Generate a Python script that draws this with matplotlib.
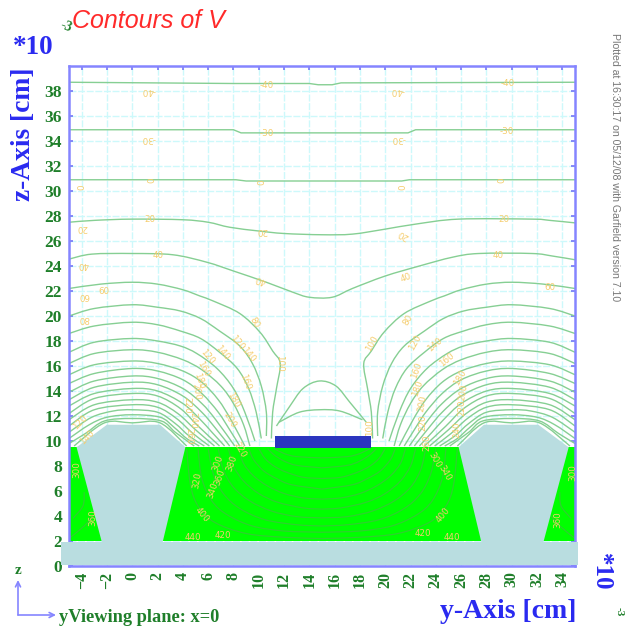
import matplotlib
matplotlib.use("Agg")
import matplotlib.pyplot as plt
from matplotlib.patches import Polygon, PathPatch, FancyArrowPatch
from matplotlib.path import Path

# Picture is symmetric about this y position; right-hand curves are its reflection
MIRROR_Y = 30

y_ticks = list(range(-4, 36, 2))
z_ticks = list(range(0, 40, 2))

# Nearly flat contours spanning the whole width
c_top1 = [(-5, 38.7), (8, 38.6), (14, 38.6), (14.7, 38.5), (15.8, 38.5), (16.5, 38.65), (35, 38.7)]
c_top2 = [(-5, 34.9), (8, 34.9), (8.6, 34.65), (21.8, 34.65), (22.4, 34.9), (35, 34.9)]
c_top3 = [(-5, 30.9), (8.2, 30.9), (9, 30.8), (21.3, 30.8), (21.9, 30.9), (35, 30.9)]
c_top4 = [(-5, 27.5), (-3, 27.65), (0, 27.75), (4, 27.7), (6, 27.5), (7.7, 27.1), (10, 26.8), (12, 26.6),
          (15, 26.5), (17.4, 26.55), (20, 26.95), (22.4, 27.35), (25.8, 27.75), (31.6, 27.75), (33, 27.65), (35, 27.45)]
c_saddle = [(-5, 24.55), (-3.2, 24.95), (0, 25), (3.2, 24.9), (5.9, 24.3), (8, 23.6), (10.6, 22.7), (12.7, 21.9),
            (14, 21.5), (15.8, 21.5), (17.4, 22.2), (20, 23.2), (22.7, 24), (25.3, 24.7), (27.4, 25), (31.6, 25),
            (33.2, 24.8), (35, 24.5)]

# Arches over the left island, ending on the electrode side
arches = [
    [(-5, 22.2), (-2.5, 22.55), (0, 22.7), (2, 22.55), (4, 22.1), (5.35, 21.6), (6.4, 21.2), (8.5, 20.2), (10.1, 18.7),
     (11.1, 17.2), (11.7, 16.2), (11.4, 14.2), (11.1, 12.3), (11, 10.2)],
    [(-5, 20), (-3, 20.6), (0, 20.9), (2, 20.7), (3.8, 20.4), (5.4, 19.8), (6.9, 18.8), (8.5, 17.6), (9.5, 16.2),
     (10.2, 14.4), (10.6, 12.3), (10.6, 10.4)],
    [(-5, 18.6), (-3, 19.2), (0, 19.5), (2, 19.3), (3.8, 18.8), (5.4, 18.2), (6.9, 17.1), (8.3, 15.8), (9.2, 14.2),
     (9.8, 12.3), (10.2, 10.2)],
    [(-5, 17.1), (-3, 17.9), (0, 18.2), (2, 18), (3.8, 17.6), (5.1, 17), (6.7, 15.8), (8, 14.2), (8.9, 12.3), (9.7, 10)],
    [(-5, 16.2), (-3, 17), (0, 17.3), (2, 17.1), (4, 16.5), (5.5, 15.7), (7, 14.4), (8, 13), (8.8, 11.3), (9.3, 9.6)],
    [(-5, 15.3), (-3, 16.1), (0, 16.4), (2, 16.2), (4, 15.6), (5.5, 14.7), (6.8, 13.3), (7.8, 11.7), (8.9, 9.6)],
    [(-5, 14.6), (-3, 15.4), (0, 15.8), (2, 15.6), (4, 14.9), (5.5, 13.8), (6.8, 12.3), (7.7, 10.9), (8.5, 9.6)],
    [(-5, 13.9), (-3, 14.8), (0, 15.2), (2, 15), (4, 14.2), (5.5, 13), (6.6, 11.7), (8.1, 9.6)],
    [(-5, 13.3), (-3, 14.3), (0, 14.7), (2, 14.5), (4, 13.6), (5.5, 12.3), (6.6, 11), (7.7, 9.6)],
    [(-5, 12.8), (-3, 13.8), (0, 14.2), (2, 14), (4, 13), (5.3, 11.8), (6.3, 10.7), (7.3, 9.6)],
    [(-5, 12.2), (-3, 13.4), (0, 13.8), (2, 13.6), (3.8, 12.6), (5.2, 11.2), (6.9, 9.6)],
    [(-5, 11.7), (-3, 12.9), (0, 13.3), (2, 13.1), (3.6, 12.2), (5, 10.9), (6.5, 9.6)],
    [(-5, 11.2), (-3, 12.5), (0, 12.9), (2, 12.7), (3.5, 11.8), (4.8, 10.6), (6.1, 9.6)],
    [(-5, 10.7), (-3.2, 11.9), (-1.5, 12.4), (0, 12.5), (2, 12.3), (3.4, 11.4), (4.5, 10.4), (5.7, 9.6)],
    [(-5, 10.2), (-3.4, 11.3), (-2, 11.9), (0, 12.1), (2.2, 11.9), (3.3, 11.1), (4.3, 10.2), (5.3, 9.6)],
    [(-5, 9.8), (-3.7, 10.6), (-2.2, 11.6), (0, 11.8), (2.3, 11.6), (3.4, 10.7), (4.9, 9.6)],
    [(-4.6, 9.6), (-2.2, 11.45), (0, 11.45), (2.2, 11.45), (4.3, 9.6)],
]

# Two small arcs above the electrode
c_elec1 = [(11.4, 11.2), (12.4, 12.7), (13.5, 14.2), (14.8, 14.8), (16.1, 14.4), (17.2, 13.1), (18.5, 11.5)]
c_elec2 = [(11.6, 11.5), (13.2, 12.3), (14.8, 12.5), (16.4, 12.4), (18.2, 11.7)]

# Half contours inside the green region, from the top edge down to the centre
green_arcs = [
    [(4.3, 9.4), (4.6, 6.5), (5.2, 4.8), (6.5, 3.5), (9, 2.6), (12, 2.3), (15, 2.2)],
    [(5.2, 9.4), (5.5, 7), (6.3, 5.2), (7.5, 4.1), (9.5, 3.2), (12, 2.8), (15, 2.7)],
    [(6, 9.4), (6.4, 7.4), (7.2, 5.8), (8.5, 4.6), (10.5, 3.7), (13, 3.3), (15, 3.2)],
    [(6.8, 9.4), (7.2, 7.7), (8, 6.3), (9.3, 5.2), (11, 4.4), (13, 3.95), (15, 3.85)],
    [(7.6, 9.4), (8, 8), (8.8, 6.8), (10, 5.8), (11.5, 5.1), (13.5, 4.65), (15, 4.55)],
    [(8.4, 9.4), (8.8, 8.2), (9.6, 7.2), (10.7, 6.4), (12, 5.8), (13.5, 5.45), (15, 5.35)],
    [(9.2, 9.4), (9.6, 8.5), (10.4, 7.6), (11.4, 7), (12.6, 6.5), (15, 6.15)],
    [(10, 9.4), (10.5, 8.6), (11.2, 8), (12.2, 7.5), (13.5, 7.1), (15, 7)],
    [(10.7, 9.4), (11.2, 8.9), (12, 8.4), (13, 8.05), (15, 7.85)],
    [(11.2, 9.4), (12, 9), (13, 8.75), (15, 8.65)],
    [(-5, 2.2), (-3.8, 3.2), (-3.1, 4)],
    [(-4.7, 3.8), (-3.9, 4.8), (-3.8, 5.9)],
]

# Geometry of the drawing
band = [(-5.6, 0.1), (35.2, 0.1), (35.2, 1.95), (-5.6, 1.95)]
green_block = [(-5, 2), (35, 2), (35, 9.5), (-5, 9.5)]
island_left = [(-2.4, 1.9), (-4.4, 9.5), (-2, 11.3), (2.2, 11.3), (4.2, 9.5), (2.4, 1.9)]
island_right = [(27.6, 1.9), (25.8, 9.5), (27.8, 11.3), (32.1, 11.3), (34.5, 9.5), (32.5, 1.9)]
electrode = [(11.26, 9.45), (18.9, 9.45), (18.9, 10.4), (11.26, 10.4)]

# Contour labels: pixel x, pixel y, text, rotation
labels = [
    (148, 90, '-40', 180), (267, 85, '-40', 0), (397, 91, '-40', 180), (508, 83, '-40', 0),
    (148, 139, '-30', 180), (267, 133, '-30', 0), (398, 139, '-30', 180), (507, 132, '-30', 0),
    (82, 187, '0', 90), (152, 180, '0', 90), (262, 182, '0', 90), (403, 187, '0', 90), (502, 180, '0', 90),
    (82, 227, '20', 180), (150, 220, '20', 0), (262, 231, '20', 180), (403, 234, '20', 150), (504, 220, '20', 0),
    (83, 264, '40', 180), (158, 255, '40', 0), (261, 279, '40', 160), (406, 278, '40', 20), (498, 255, '40', 0),
    (84, 295, '60', 180), (104, 291, '60', 0), (550, 287, '60', 0), (84, 319, '80', 180),
    (254, 323, '80', -60), (408, 320, '80', 60), (280, 363, '100', -90), (372, 343, '100', 60),
    (207, 357, '120', -50), (222, 353, '140', -50), (237, 343, '120', -50), (248, 355, '140', -50),
    (203, 369, '160', -60), (199, 381, '180', -70), (196, 392, '200', -80), (187, 405, '220', -90),
    (193, 420, '240', -90), (189, 436, '260', -90), (245, 382, '160', -70), (233, 400, '180', -60),
    (230, 420, '200', -60), (240, 450, '220', -60), (218, 463, '300', 70), (197, 480, '320', 80),
    (213, 490, '340', 70), (220, 477, '360', 70), (232, 463, '380', 70), (202, 515, '400', -50),
    (223, 535, '420', 0), (193, 538, '440', 0), (77, 470, '300', 90), (93, 518, '360', 90),
    (80, 422, '120', 45), (87, 437, '140', 45), (415, 343, '120', 60), (435, 345, '140', 40),
    (447, 360, '160', 40), (417, 370, '160', 70), (418, 388, '180', 70), (460, 377, '180', 60),
    (463, 392, '200', 80), (462, 408, '220', 90), (457, 430, '240', 90), (422, 403, '200', 80),
    (423, 423, '220', 90), (427, 443, '260', 90), (370, 428, '100', 90), (435, 460, '300', -60),
    (445, 473, '340', -60), (443, 515, '400', 50), (423, 533, '420', 0), (452, 538, '440', 0),
    (573, 473, '300', 90), (558, 520, '360', 90),
]

W, H = 626, 627
SERIF = 'Liberation Serif'
TICK_GREEN = '#1f7f2a'
BLUE = '#2a2af0'
FRAME = '#8585ff'
LINE = '#86cf93'
LABEL = '#f5cd6e'


def mirrored(points):
    return [(MIRROR_Y - y, z) for y, z in points]


fig = plt.figure(figsize=(W / 100, H / 100), dpi=100, facecolor='white')
ax = fig.add_axes([69 / W, 1 - 566 / H, (575 - 69) / W, (566 - 66) / H])
ax.set_xlim(-5, 35)
ax.set_ylim(0, 40)
ax.set_xticks(y_ticks)
ax.set_yticks(z_ticks)
ax.grid(True, color='#cdf9fb', lw=1.0, ls=(0, (5, 1.2)), zorder=0)
ax.set_axisbelow(True)
ax.tick_params(axis='x', direction='in', length=3, width=1.1, color='#6a6af5', top=True, bottom=False,
               labelrotation=90, labelsize=11.5, labelcolor=TICK_GREEN, pad=4)
ax.tick_params(axis='y', direction='in', length=3, width=1.1, color='#6a6af5', right=True,
               labelsize=12.5, labelcolor=TICK_GREEN, pad=5)
for lab in ax.get_xticklabels() + ax.get_yticklabels():
    lab.set_family(SERIF)
    lab.set_fontweight('bold')
for s in ax.spines.values():
    s.set_color(FRAME)
    s.set_linewidth(1.8)
    s.set_zorder(8)


def draw_curve(points, color, lw, zorder):
    """Smooth Bezier path running through the read points."""
    verts = [points[0]]
    n = len(points)
    for i in range(n - 1):
        p0 = points[max(i - 1, 0)]
        p1 = points[i]
        p2 = points[i + 1]
        p3 = points[min(i + 2, n - 1)]
        verts.append((p1[0] + (p2[0] - p0[0]) / 6, p1[1] + (p2[1] - p0[1]) / 6))
        verts.append((p2[0] - (p3[0] - p1[0]) / 6, p2[1] - (p3[1] - p1[1]) / 6))
        verts.append(p2)
    codes = [Path.MOVETO] + [Path.CURVE4] * (len(verts) - 1)
    ax.add_patch(PathPatch(Path(verts, codes), fc='none', ec=color, lw=lw, zorder=zorder))


for c in (c_top1, c_top2, c_top3):
    ax.plot([p[0] for p in c], [p[1] for p in c], color=LINE, lw=1.0, zorder=2)
for c in (c_top4, c_saddle, c_elec1, c_elec2):
    draw_curve(c, LINE, 1.0, 2)
for a in arches:
    draw_curve(a, LINE, 1.0, 2)
    draw_curve(mirrored(a), LINE, 1.0, 2)

ax.add_patch(Polygon(green_block, closed=True, fc='#00ff00', ec='none', zorder=3))
for g in green_arcs:
    draw_curve(g, '#2fd02f', 0.9, 4)
    draw_curve(mirrored(g), '#2fd02f', 0.9, 4)
ax.add_patch(Polygon(island_left, closed=True, fc='#b9dde0', ec='none', zorder=5))
ax.add_patch(Polygon(island_right, closed=True, fc='#b9dde0', ec='none', zorder=5))
ax.add_patch(Polygon(band, closed=True, fc='#b9dde0', ec='none', zorder=9, clip_on=False))
ax.add_patch(Polygon(electrode, closed=True, fc='#2b35bf', ec='none', zorder=6))

for px, py, txt, rot in labels:
    fig.text(px / W, 1 - py / H, txt, color=LABEL, fontsize=6.3, rotation=rot, ha='center', va='center',
             family='DejaVu Sans', zorder=7)

fig.text(72 / W, 1 - 21 / H, 'Contours of V', color='#ff2a2a', fontsize=18, style='italic',
         family='Liberation Sans', ha='left', va='center')
fig.text(66 / W, 1 - 27 / H, '-3', color=TICK_GREEN, fontsize=10, family=SERIF, weight='bold',
         ha='center', va='center', rotation=-20)
fig.text(33 / W, 1 - 47 / H, '*10', color=BLUE, fontsize=19.5, family=SERIF, weight='bold',
         ha='center', va='center')
fig.text(24 / W, 1 - 134 / H, 'z-Axis [cm]', color=BLUE, fontsize=19.8, family=SERIF, weight='bold',
         rotation=90, ha='center', va='center')
fig.text(576 / W, 1 - 611 / H, 'y-Axis [cm]', color=BLUE, fontsize=20, family=SERIF, weight='bold',
         ha='right', va='center')
fig.text(601 / W, 1 - 572 / H, '*10', color=BLUE, fontsize=18, family=SERIF, weight='bold',
         rotation=270, ha='center', va='center')
fig.text(619 / W, 1 - 612 / H, '-3', color=TICK_GREEN, fontsize=8, family=SERIF, weight='bold',
         rotation=270, ha='center', va='center')
fig.text(59 / W, 1 - 617 / H, 'yViewing plane: x=0', color=TICK_GREEN, fontsize=13.2, family=SERIF, weight='bold',
         ha='left', va='center')
fig.text(18 / W, 1 - 571 / H, 'z', color=TICK_GREEN, fontsize=11, family=SERIF, weight='bold',
         ha='center', va='center')
fig.text(615 / W, 1 - 167 / H, 'Plotted at 16:30:17 on 05/12/08 with Garfield version 7.10',
         color='#777777', fontsize=7.6, family='Liberation Sans', rotation=270, ha='center', va='center')

arrow = dict(arrowstyle='->', color=FRAME, lw=1.2, shrinkA=0, shrinkB=0, mutation_scale=9)
fig.add_artist(FancyArrowPatch((18 / W, 1 - 615 / H), (18 / W, 1 - 580 / H), transform=fig.transFigure, **arrow))
fig.add_artist(FancyArrowPatch((18 / W, 1 - 615 / H), (56 / W, 1 - 615 / H), transform=fig.transFigure, **arrow))

fig.savefig('out.png', dpi=100, facecolor='white')
